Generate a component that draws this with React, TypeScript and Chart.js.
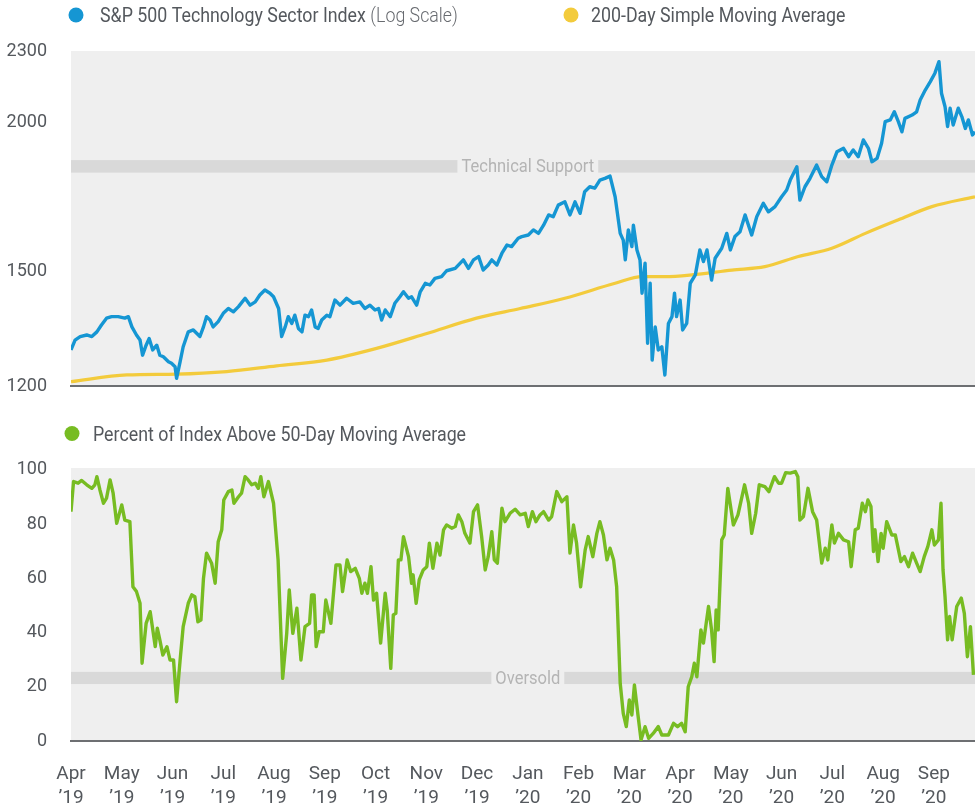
import React, { useEffect, useRef } from "react";
import { Chart, registerables } from "chart.js";

Chart.register(...registerables);

// ---------- data ----------
const monthLabels: string[][] = [
  ["Apr", "’19"], ["May", "’19"], ["Jun", "’19"], ["Jul", "’19"], ["Aug", "’19"], ["Sep", "’19"],
  ["Oct", "’19"], ["Nov", "’19"], ["Dec", "’19"], ["Jan", "’20"], ["Feb", "’20"], ["Mar", "’20"],
  ["Apr", "’20"], ["May", "’20"], ["Jun", "’20"], ["Jul", "’20"], ["Aug", "’20"], ["Sep", "’20"],
];
// x values are months elapsed since 1 Apr 2019
const X_MAX = 17.81;

const indexMonths = [
  0.00, 0.08, 0.18, 0.31, 0.41, 0.51, 0.60, 0.70, 0.80, 0.93, 1.06, 1.13, 1.20, 1.29, 1.36, 1.41, 1.48, 1.54, 1.61, 1.69,
  1.75, 1.82, 1.92, 1.98, 2.05, 2.08, 2.15, 2.21, 2.31, 2.41, 2.48, 2.54, 2.61, 2.67, 2.74, 2.80, 2.90, 3.00, 3.10, 3.20,
  3.30, 3.43, 3.53, 3.63, 3.72, 3.82, 3.92, 3.99, 4.09, 4.15, 4.22, 4.28, 4.35, 4.41, 4.48, 4.55, 4.61, 4.68, 4.74, 4.81,
  4.87, 4.94, 5.04, 5.10, 5.20, 5.30, 5.43, 5.56, 5.69, 5.79, 5.89, 5.99, 6.06, 6.12, 6.19, 6.29, 6.38, 6.48, 6.55, 6.65,
  6.71, 6.81, 6.88, 6.98, 7.07, 7.17, 7.30, 7.40, 7.57, 7.73, 7.83, 7.93, 8.03, 8.12, 8.22, 8.29, 8.39, 8.49, 8.59, 8.68,
  8.81, 8.88, 9.01, 9.11, 9.21, 9.31, 9.41, 9.50, 9.60, 9.73, 9.83, 9.93, 10.03, 10.12, 10.22, 10.32, 10.42, 10.52, 10.62, 10.72,
  10.82, 10.88, 10.92, 10.98, 11.05, 11.08, 11.15, 11.21, 11.25, 11.31, 11.36, 11.41, 11.45, 11.51, 11.57, 11.64, 11.70, 11.77, 11.84, 11.89,
  11.93, 12.00, 12.05, 12.13, 12.20, 12.30, 12.39, 12.46, 12.53, 12.62, 12.69, 12.82, 12.92, 12.99, 13.08, 13.18, 13.28, 13.41, 13.51, 13.64,
  13.74, 13.87, 14.00, 14.10, 14.17, 14.30, 14.36, 14.46, 14.56, 14.69, 14.79, 14.89, 14.99, 15.09, 15.22, 15.32, 15.41, 15.51, 15.61, 15.71,
  15.78, 15.88, 15.97, 16.04, 16.14, 16.22, 16.30, 16.37, 16.43, 16.57, 16.66, 16.73, 16.83, 16.93, 17.02, 17.10, 17.15, 17.22, 17.27, 17.32,
  17.38, 17.48, 17.55, 17.62, 17.68, 17.76, 17.81,
];
const indexValues = [
  1287, 1312, 1321, 1325, 1321, 1333, 1351, 1369, 1373, 1373, 1369, 1373, 1346, 1325, 1312, 1274, 1299, 1316, 1287, 1299,
  1274, 1270, 1258, 1254, 1246, 1218, 1258, 1295, 1333, 1338, 1329, 1321, 1346, 1373, 1364, 1346, 1360, 1382, 1395, 1386,
  1400, 1423, 1404, 1413, 1432, 1446, 1437, 1427, 1395, 1321, 1346, 1373, 1355, 1377, 1342, 1333, 1377, 1373, 1391, 1346,
  1342, 1364, 1377, 1373, 1418, 1404, 1423, 1409, 1413, 1395, 1404, 1391, 1395, 1364, 1391, 1373, 1409, 1427, 1441, 1423,
  1427, 1404, 1441, 1465, 1460, 1479, 1484, 1501, 1508, 1533, 1508, 1533, 1543, 1503, 1518, 1533, 1518, 1553, 1578, 1573,
  1599, 1604, 1609, 1625, 1614, 1640, 1673, 1667, 1705, 1716, 1673, 1716, 1678, 1750, 1767, 1762, 1790, 1796, 1804, 1733,
  1614, 1593, 1533, 1625, 1573, 1640, 1563, 1533, 1437, 1523, 1304, 1465, 1262, 1346, 1287, 1295, 1226, 1355, 1373, 1437,
  1373, 1418, 1338, 1355, 1465, 1489, 1563, 1528, 1563, 1474, 1538, 1568, 1614, 1563, 1604, 1619, 1673, 1609, 1667, 1711,
  1683, 1700, 1733, 1756, 1790, 1837, 1722, 1767, 1796, 1843, 1802, 1784, 1843, 1891, 1904, 1873, 1898, 1873, 1935, 1904,
  1855, 1867, 1923, 2005, 2012, 2044, 2005, 1966, 2018, 2031, 2044, 2091, 2132, 2167, 2203, 2253, 2119, 2064, 1986, 2058,
  1992, 2058, 2025, 1979, 2012, 1954, 1966,
];

const smaMonths = [0, 1.10, 2.08, 3.07, 4.05, 5.04, 6.02, 7.01, 7.99, 8.85, 9.73, 10.72, 11.25, 11.70, 12.23, 13.02, 13.67, 14.33, 14.99, 15.65, 16.30, 16.96, 17.81];
const smaValues = [1210, 1226, 1228, 1234, 1248, 1262, 1291, 1329, 1369, 1395, 1423, 1465, 1484, 1484, 1489, 1503, 1513, 1543, 1568, 1614, 1657, 1700, 1733];

const pctMonths = [
  0.00, 0.05, 0.14, 0.21, 0.31, 0.41, 0.47, 0.51, 0.57, 0.64, 0.70, 0.77, 0.83, 0.90, 1.00, 1.06, 1.16, 1.22, 1.29, 1.36,
  1.40, 1.48, 1.56, 1.66, 1.70, 1.75, 1.81, 1.89, 1.95, 2.02, 2.08, 2.15, 2.21, 2.31, 2.38, 2.44, 2.50, 2.56, 2.61, 2.67,
  2.77, 2.84, 2.90, 2.97, 3.01, 3.10, 3.17, 3.21, 3.30, 3.36, 3.43, 3.49, 3.56, 3.63, 3.69, 3.74, 3.80, 3.89, 3.99, 4.08,
  4.17, 4.25, 4.30, 4.37, 4.45, 4.53, 4.61, 4.70, 4.74, 4.79, 4.83, 4.89, 4.97, 5.02, 5.12, 5.22, 5.30, 5.35, 5.44, 5.51,
  5.60, 5.68, 5.73, 5.79, 5.84, 5.91, 5.96, 6.02, 6.10, 6.19, 6.23, 6.30, 6.35, 6.40, 6.45, 6.50, 6.55, 6.65, 6.71, 6.74,
  6.80, 6.86, 6.94, 7.01, 7.06, 7.13, 7.21, 7.27, 7.34, 7.40, 7.50, 7.57, 7.63, 7.70, 7.76, 7.86, 7.93, 8.01, 8.09, 8.16,
  8.22, 8.29, 8.34, 8.40, 8.49, 8.55, 8.65, 8.75, 8.85, 8.95, 9.01, 9.09, 9.16, 9.24, 9.31, 9.41, 9.47, 9.57, 9.67, 9.77,
  9.83, 9.90, 9.96, 10.04, 10.13, 10.19, 10.28, 10.36, 10.42, 10.49, 10.56, 10.62, 10.69, 10.75, 10.82, 10.88, 10.94, 11.00, 11.05, 11.10,
  11.17, 11.23, 11.31, 11.38, 11.47, 11.57, 11.64, 11.77, 11.87, 11.95, 12.03, 12.10, 12.16, 12.23, 12.28, 12.33, 12.41, 12.46, 12.56, 12.62,
  12.67, 12.71, 12.75, 12.82, 12.87, 12.94, 13.05, 13.14, 13.27, 13.35, 13.41, 13.49, 13.56, 13.67, 13.75, 13.86, 13.94, 14.00, 14.08, 14.17,
  14.27, 14.32, 14.36, 14.43, 14.52, 14.61, 14.69, 14.79, 14.86, 14.91, 14.99, 15.04, 15.12, 15.22, 15.32, 15.37, 15.45, 15.51, 15.59, 15.65,
  15.70, 15.76, 15.81, 15.84, 15.90, 15.96, 16.00, 16.07, 16.17, 16.24, 16.35, 16.42, 16.50, 16.58, 16.66, 16.73, 16.81, 16.88, 16.96, 17.01,
  17.09, 17.14, 17.18, 17.22, 17.27, 17.31, 17.36, 17.45, 17.54, 17.60, 17.66, 17.72, 17.78,
];
const pctValues = [
  84.6, 95.7, 95.1, 96.1, 94.5, 93.2, 94.5, 97.5, 92.6, 87.7, 89.6, 96.3, 91.4, 80.3, 87.1, 81.5, 80.9, 56.9, 55.1, 50.8,
  28.7, 43.4, 47.7, 34.8, 41.6, 37.3, 31.7, 34.8, 29.9, 29.9, 14.5, 29.9, 42.2, 50.8, 53.9, 53.2, 44.0, 44.6, 60.0, 69.3,
  65.6, 58.2, 73.5, 77.9, 88.9, 92.0, 92.6, 87.7, 90.1, 91.4, 97.5, 96.3, 94.5, 95.1, 93.2, 97.5, 90.1, 95.7, 87.7, 66.8,
  23.1, 39.7, 55.7, 39.7, 49.0, 29.9, 42.2, 43.4, 53.9, 53.9, 34.8, 40.3, 40.3, 52.0, 43.4, 64.9, 64.9, 55.1, 66.8, 62.5,
  63.7, 60.0, 54.5, 58.2, 54.5, 64.3, 52.0, 54.5, 36.1, 54.5, 48.3, 26.8, 46.5, 47.1, 66.8, 66.8, 75.4, 68.0, 58.2, 61.3,
  50.8, 59.4, 63.1, 64.3, 73.0, 63.7, 73.0, 68.6, 77.9, 79.7, 78.5, 79.1, 83.4, 80.9, 76.6, 73.0, 84.6, 87.1, 75.4, 63.1,
  68.0, 77.2, 66.8, 65.6, 85.9, 80.9, 84.0, 85.5, 83.4, 84.0, 79.1, 84.6, 80.9, 83.4, 84.6, 81.5, 82.8, 92.0, 88.3, 90.1,
  69.3, 79.7, 73.0, 56.9, 70.5, 75.4, 68.0, 76.6, 80.9, 76.0, 66.8, 71.1, 66.8, 56.9, 21.3, 10.2, 5.3, 15.1, 9.6, 20.7,
  9.6, 0.4, 5.3, 1.0, 2.8, 5.3, 2.2, 2.2, 6.5, 5.3, 6.5, 3.4, 20.0, 23.7, 28.7, 23.7, 41.0, 36.1, 49.6, 41.0,
  29.3, 48.3, 41.0, 74.2, 76.0, 93.2, 79.7, 83.4, 94.5, 87.7, 76.6, 84.0, 94.5, 93.8, 92.0, 97.5, 95.1, 95.1, 99.0, 98.8,
  99.4, 97.5, 81.5, 82.8, 93.2, 84.6, 81.5, 65.6, 71.1, 66.8, 79.7, 73.0, 76.6, 74.2, 73.5, 64.3, 77.9, 78.5, 87.7, 84.6,
  88.9, 86.5, 69.9, 77.9, 66.2, 76.6, 71.1, 80.9, 76.0, 76.0, 66.2, 68.0, 64.3, 69.3, 65.6, 62.5, 68.0, 71.7, 77.9, 72.3,
  74.2, 87.7, 63.1, 53.2, 37.3, 45.9, 37.3, 49.6, 52.7, 47.1, 31.1, 42.2, 24.4,
];

const priceTicks = [1200, 1500, 2000, 2300];
const pctTicks = [0, 20, 40, 60, 80, 100];
const supportBand = [1816, 1861];
const oversoldBand = [21, 25.5];
const bandLabelMonth = 9;

// ---------- styles ----------
const FONT = "Roboto, 'Noto Sans', sans-serif";
const TEXT = "#54585d";
const BLUE = "#1596d3";
const YELLOW = "#f3cb3c";
const GREEN = "#77bc22";
const PLOT_BG = "#efefef";
const BAND = "#d9d9d9";
const BAND_TEXT = "#b4b4b4";
const AXIS = "#6d6f72";
const CONDENSE = 0.89;

const plotBackground = {
  id: "plotBackground",
  beforeDraw(chart: any) {
    const { ctx, chartArea: a } = chart;
    ctx.save();
    ctx.fillStyle = PLOT_BG;
    ctx.fillRect(a.left, a.top, a.right - a.left, a.bottom - a.top);
    ctx.restore();
  },
};

function bandPlugin(range: number[], text: string, atMonth: number) {
  return {
    id: "band",
    beforeDatasetsDraw(chart: any) {
      const { ctx, chartArea: a, scales } = chart;
      const yTop = scales.y.getPixelForValue(range[1]);
      const yBot = scales.y.getPixelForValue(range[0]);
      const cx = scales.x.getPixelForValue(atMonth);
      const sx = 0.87;
      ctx.save();
      ctx.fillStyle = BAND;
      ctx.fillRect(a.left, yTop, a.right - a.left, yBot - yTop);
      ctx.font = `19px ${FONT}`;
      const w = ctx.measureText(text).width * sx;
      ctx.fillStyle = PLOT_BG;
      ctx.fillRect(cx - w / 2 - 4, yTop - 1, w + 8, yBot - yTop + 2);
      ctx.fillStyle = BAND_TEXT;
      ctx.textAlign = "center";
      ctx.textBaseline = "middle";
      ctx.translate(cx, (yTop + yBot) / 2 + 1);
      ctx.scale(sx, 1);
      ctx.fillText(text, 0, 0);
      ctx.restore();
    },
  };
}

type LegendItem = { color: string; text: string; note?: string; dotX: number; textX: number };
function legendPlugin(items: LegendItem[], baseline: number) {
  return {
    id: "customLegend",
    afterDraw(chart: any) {
      const ctx = chart.ctx;
      for (const it of items) {
        ctx.save();
        ctx.fillStyle = it.color;
        ctx.beginPath();
        ctx.arc(it.dotX, baseline - 7, 7.5, 0, Math.PI * 2);
        ctx.fill();
        ctx.translate(it.textX, baseline);
        ctx.scale(CONDENSE, 1);
        ctx.font = `20px ${FONT}`;
        ctx.fillStyle = TEXT;
        ctx.textAlign = "left";
        ctx.textBaseline = "alphabetic";
        ctx.fillText(it.text, 0, 0);
        if (it.note) {
          const w = ctx.measureText(it.text).width;
          ctx.font = `300 20px ${FONT}`;
          ctx.fillStyle = "#686b70";
          ctx.fillText(it.note, w + 5, 0);
        }
        ctx.restore();
      }
    },
  };
}

function xScale(showLabels: boolean, height: number) {
  return {
    type: "linear",
    min: 0,
    max: X_MAX,
    grid: { display: false, drawTicks: false },
    border: { display: true, color: AXIS, width: 2 },
    afterBuildTicks: (s: any) => {
      s.ticks = monthLabels.map((_, i) => ({ value: i }));
    },
    ticks: {
      display: showLabels,
      autoSkip: false,
      maxRotation: 0,
      padding: 21,
      color: TEXT,
      font: { family: FONT, size: 19, lineHeight: 24 / 19 },
      callback: (v: any) => monthLabels[Math.round(v)],
    },
    afterFit: (s: any) => {
      s.height = height;
    },
  };
}

function yScale(type: string, min: number, max: number, ticks: number[]) {
  return {
    type,
    min,
    max,
    grid: { display: false, drawTicks: false },
    border: { display: false },
    afterBuildTicks: (s: any) => {
      s.ticks = ticks.map((v) => ({ value: v }));
    },
    ticks: {
      padding: 24,
      color: TEXT,
      font: { family: FONT, size: 18 },
      callback: (v: any) => String(v),
    },
    afterFit: (s: any) => {
      s.width = 71;
    },
  };
}

const pts = (xs: number[], ys: number[]) => xs.map((x, i) => ({ x, y: ys[i] }));

export default function App() {
  const topRef = useRef<HTMLCanvasElement>(null);
  const botRef = useRef<HTMLCanvasElement>(null);

  useEffect(() => {
    const top = new Chart(topRef.current as HTMLCanvasElement, {
      type: "line",
      data: {
        datasets: [
          {
            label: "S&P 500 Technology Sector Index (Log Scale)",
            data: pts(indexMonths, indexValues),
            borderColor: BLUE,
            borderWidth: 3.4,
            pointRadius: 0,
            tension: 0,
            borderJoinStyle: "round",
          },
          {
            label: "200-Day Simple Moving Average",
            data: pts(smaMonths, smaValues),
            borderColor: YELLOW,
            borderWidth: 3.2,
            pointRadius: 0,
            cubicInterpolationMode: "monotone",
          },
        ],
      } as any,
      options: {
        animation: false,
        responsive: false,
        maintainAspectRatio: false,
        layout: { padding: { top: 51, left: 0, right: 0, bottom: 0 } },
        plugins: { legend: { display: false }, tooltip: { enabled: false } },
        scales: {
          x: xScale(false, 54),
          y: yScale("logarithmic", 1200, 2300, priceTicks),
        } as any,
      },
      plugins: [
        plotBackground,
        bandPlugin(supportBand, "Technical Support", bandLabelMonth),
        legendPlugin(
          [
            { color: BLUE, text: "S&P 500 Technology Sector Index", note: "(Log Scale)", dotX: 76, textX: 100 },
            { color: YELLOW, text: "200-Day Simple Moving Average", dotX: 571, textX: 591 },
          ],
          22
        ),
      ],
    });

    const bot = new Chart(botRef.current as HTMLCanvasElement, {
      type: "line",
      data: {
        datasets: [
          {
            label: "Percent of Index Above 50-Day Moving Average",
            data: pts(pctMonths, pctValues),
            borderColor: GREEN,
            borderWidth: 3.4,
            pointRadius: 0,
            tension: 0,
            borderJoinStyle: "round",
          },
        ],
      } as any,
      options: {
        animation: false,
        responsive: false,
        maintainAspectRatio: false,
        layout: { padding: { top: 68, left: 0, right: 0, bottom: 0 } },
        plugins: { legend: { display: false }, tooltip: { enabled: false } },
        scales: {
          x: xScale(true, 67),
          y: yScale("linear", 0, 100.7, pctTicks),
        } as any,
      },
      plugins: [
        plotBackground,
        bandPlugin(oversoldBand, "Oversold", bandLabelMonth),
        legendPlugin([{ color: GREEN, text: "Percent of Index Above 50-Day Moving Average", dotX: 72, textX: 93 }], 40.5),
      ],
    });

    return () => {
      top.destroy();
      bot.destroy();
    };
  }, []);

  return (
    <div style={{ position: "absolute", left: 0, top: 0, width: 975, height: 808, background: "#ffffff" }}>
      <canvas ref={topRef} width={975} height={440} style={{ position: "absolute", left: 0, top: 0, width: 975, height: 440 }} />
      <canvas ref={botRef} width={975} height={408} style={{ position: "absolute", left: 0, top: 400, width: 975, height: 408 }} />
    </div>
  );
}
